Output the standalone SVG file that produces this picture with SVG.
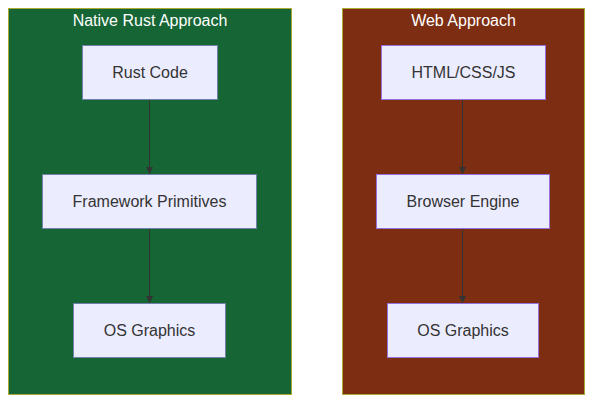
<svg xmlns="http://www.w3.org/2000/svg" width="593" height="403" viewBox="0 0 593 403">
<style>
.node rect{fill:#ECECFF;stroke:#9370DB;stroke-width:1}
#native-nodes .node rect{stroke:#7080A8}
.node text{font-family:"Liberation Sans",Arial,sans-serif;font-size:16px;fill:#333;text-anchor:middle;dominant-baseline:central}
.ct{font-family:"Liberation Sans",Arial,sans-serif;font-size:16px;fill:#fff;text-anchor:middle;dominant-baseline:central}
.edge{stroke:#333;stroke-width:1;fill:none;marker-end:url(#ah)}
</style>
<defs>
<marker id="ah" viewBox="0 0 10 10" refX="10" refY="5" markerWidth="7" markerHeight="7" orient="auto" markerUnits="userSpaceOnUse">
<path d="M0,0 L10,5 L0,10 z" fill="#333"/>
</marker>
</defs>
<rect width="593" height="403" fill="#fff"/>
<g id="native">
<rect x="8.5" y="8.5" width="283" height="386" fill="#166534" stroke="#AAAA33" stroke-width="1"/>
<text class="ct" x="150" y="20">Native Rust Approach</text>
</g>
<g id="web">
<rect x="342.5" y="8.5" width="242" height="386" fill="#7C2D12" stroke="#AAAA33" stroke-width="1"/>
<text class="ct" x="463.5" y="20">Web Approach</text>
</g>
<g id="edges">
<path class="edge" d="M149.5,99.5 V174"/>
<path class="edge" d="M149.5,228.5 V303"/>
<path class="edge" d="M462.5,99.5 V174"/>
<path class="edge" d="M462.5,228.5 V303"/>
</g>
<g id="native-nodes">
<g id="rust" class="node"><rect x="82.5" y="45.5" width="135" height="54"/><text x="150" y="72.5">Rust Code</text></g>
<g id="framework" class="node"><rect x="42.5" y="174.5" width="214" height="54"/><text x="149.5" y="201.5">Framework Primitives</text></g>
<g id="os1" class="node"><rect x="73.5" y="303.5" width="152" height="54"/><text x="149.5" y="330.5">OS Graphics</text></g>
</g>
<g id="web-nodes">
<g id="html" class="node"><rect x="381.5" y="45.5" width="164" height="54"/><text x="463.5" y="72.5">HTML/CSS/JS</text></g>
<g id="browser" class="node"><rect x="376.5" y="174.5" width="173" height="54"/><text x="463" y="201.5">Browser Engine</text></g>
<g id="os2" class="node"><rect x="387.5" y="303.5" width="151" height="54"/><text x="463" y="330.5">OS Graphics</text></g>
</g>
</svg>
